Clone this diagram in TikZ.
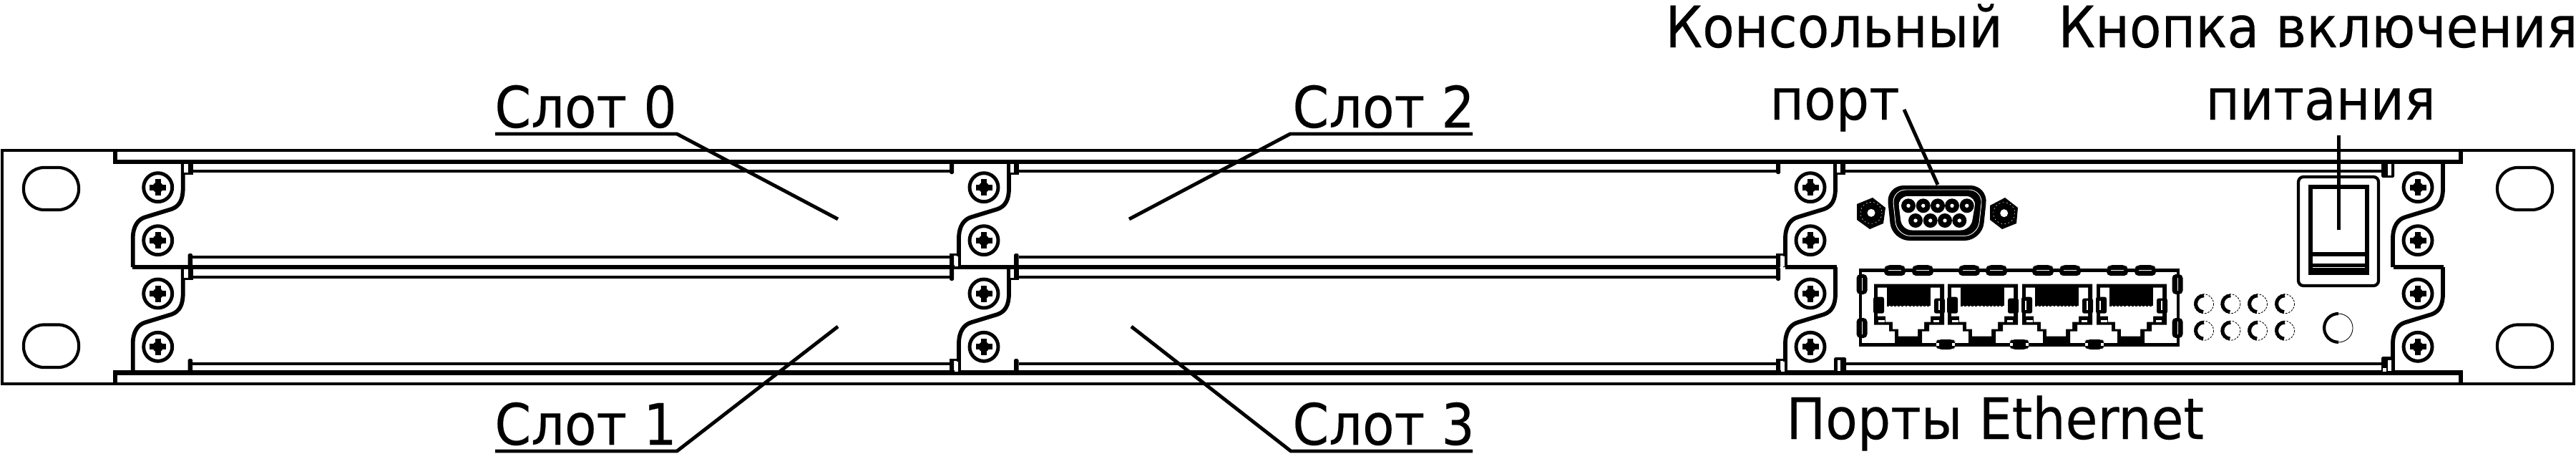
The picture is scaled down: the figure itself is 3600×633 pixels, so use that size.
\documentclass[tikz,border=0pt]{standalone}
\usepackage{fontspec}
\setmainfont[FakeStretch=0.915,FakeBold=0.25]{DejaVu Sans}
% 1 reference pixel = 0.02cm = 0.5669pt
\tikzset{
  rail/.style={line width=2.7pt},
  heavy/.style={line width=3.5pt},
  bracket/.style={line width=3.3pt,line join=round},
  leader/.style={line width=2.8pt,line join=round},
  lbl/.style={inner sep=0pt,anchor=base west,font=\fontsize{45.4}{50}\selectfont},
  ink/.style={fill=black,draw=none},
  blank/.style={fill=white,draw=none},
  hole/.style={line width=2.4pt,rounded corners=16.2pt},
}
\newcommand\SCurve[2]{%
  \draw[bracket] ({#1+35},{#2}) -- ({#1+35},{#2+37})
    .. controls ({#1+35},{#2+53}) and ({#1+30},{#2+62}) .. ({#1+19},{#2+66})
    -- ({#1-17},{#2+77})
    .. controls ({#1-28},{#2+80}) and ({#1-35},{#2+90}) .. ({#1-35},{#2+107})
    -- ({#1-35},{#2+147});}
\newcommand\Screw[2]{%
  \draw[line width=2.8pt] (#1,#2) circle[radius=20];
  \fill ({#1-11.5},{#2-4}) rectangle ({#1+11.5},{#2+4});
  \fill ({#1-4},{#2-11.5}) rectangle ({#1+4},{#2+11.5});
  \fill (#1,#2) circle[radius=7.5];}
% tab under a rail, right side of a column
\newcommand\TabBelow[2]{%
  \fill ({#1+42},{#2}) rectangle ({#1+49},{#2+18});
  \fill ({#1+34},{#2+15}) rectangle ({#1+49},{#2+18});}
\newcommand\TabAbove[2]{\fill[rounded corners=1pt] ({#1+42},{#2-19}) rectangle ({#1+48.5},{#2+1});}
% left side tab with a slit above the rail
\newcommand\TabLeftAbove[2]{%
  \fill[rounded corners=1pt] ({#1-48},{#2-19}) rectangle ({#1-42},{#2+1});
  \fill ({#1-48},{#2-19}) rectangle ({#1-33},{#2-16});}
\newcommand\HClip[2]{%
  \fill[rounded corners=3pt] ({#1-15},{#2-3}) -- ({#1-11},{#2-7.5}) -- ({#1+11},{#2-7.5}) -- ({#1+15},{#2-3}) -- ({#1+15},{#2+7.5}) -- ({#1-15},{#2+7.5}) -- cycle;
  \draw[white,line width=0.6pt] ({#1-9},{#2}) -- ({#1+9},{#2});}
\newcommand\VClip[2]{%
  \fill[rounded corners=3pt] ({#1-7.5},{#2-14}) rectangle ({#1+7.5},{#2+14});
  \draw[white,line width=0.6pt] (#1,{#2-9}) -- (#1,{#2+9});}
\newcommand\BClip[2]{%
  \fill[rounded corners=3pt] ({#1-14},{#2-4}) -- ({#1-10},{#2-7}) -- ({#1+10},{#2-7}) -- ({#1+14},{#2-4}) -- ({#1+14},{#2+3}) -- ({#1+10},{#2+7}) -- ({#1-10},{#2+7}) -- ({#1-14},{#2+3}) -- cycle;
  \fill[white] ({#1-13},{#2-2}) rectangle ({#1-9},{#2+2});
  \fill[white] ({#1+9},{#2-2}) rectangle ({#1+13},{#2+2});}
% #1 x, #2 left slit width, #3 right slit width (0 = solid)
\newcommand\Jack[3]{%
  \begin{scope}[shift={(#1,396.7)}]
    \fill (0,0) -- (98,0) -- (98,57) -- (77,57) -- (77,66) -- (67,66) -- (67,83) -- (29,83) -- (29,66) -- (21,66) -- (21,57) -- (0,57) -- cycle;
    \fill[white] (5,5) -- (92,5) -- (92,45) -- (79,45) -- (79,53) -- (70,53) -- (70,63) -- (61,63) -- (61,73) -- (34,73) -- (34,63) -- (26,63) -- (26,53) -- (16,53) -- (16,45) -- (5,45) -- cycle;
    \fill (18,3) rectangle (79,30);
    \draw[line width=1pt,dash pattern=on 1.7pt off 1.2pt] (18,30.5) -- (79,30.5);
    \fill[rounded corners=1.5pt] (-1,18) rectangle (14,41);
    \fill[rounded corners=1.5pt] (84,20) rectangle (99,41);
    \fill[white] (6,50) rectangle (15,53.5);
    \fill[white] (83,50) rectangle (91,53.5);
    \ifnum#2>0 \fill[white] (4,23) rectangle (6,36);\fi
    \ifnum#3>0 \fill[white] (90,23) rectangle (92,36);\fi
  \end{scope}}
\newcommand\Led[2]{%
  \draw[line width=0.5pt,dash pattern=on 1.5pt off 1pt] (#1,#2) circle[radius=13.5];
  \draw[line width=2.8pt] (#1,{#2-11.5}) arc[start angle=90,end angle=265,radius=6.5pt];}
\begin{document}
\begin{tikzpicture}[x=0.02cm,y=-0.02cm]
\useasboundingbox (0,0) rectangle (3600,633);
\fill[white] (0,0) rectangle (3600,633);

% chassis
\draw[rail] (3,210) rectangle (3597,536);
\draw[heavy] (161,210) -- (161,226) -- (3439,226) -- (3439,210);
\draw[heavy] (161,536) -- (161,520.5) -- (3439,520.5) -- (3439,536);

% slot rails
\foreach \y in {239,508}{
  \draw[rail] (268,\y) -- (1330,\y);
  \draw[rail] (1424,\y) -- (2483,\y);
  \draw[rail] (2579,\y) -- (3330,\y);}
\foreach \y in {359,387}{
  \draw[rail] (268,\y) -- (1330,\y);
  \draw[rail] (1424,\y) -- (2483,\y);}
\draw[heavy] (185,373) -- (2483,373);
\draw[heavy] (2495,373) -- (2567,373);
\draw[heavy] (3345,373) -- (3415,373);

% brackets
\foreach \c in {220.7,1375,2530,3379}{
  \SCurve{\c}{226}
  \SCurve{\c}{373}
  \foreach \y in {261.7,335.7,410,484.3}{\Screw{\c}{\y}}
}

% tabs, column 1
\TabBelow{220.7}{226}\TabBelow{220.7}{373}
\TabAbove{220.7}{373}\TabAbove{220.7}{520}
\fill[white] (257,228.5) rectangle (262.7,240.5);
\fill[white] (257,375.5) rectangle (262.7,387.5);
% tabs, column 2
\fill[rounded corners=1pt] (1327,226) rectangle (1333,243);
\fill[rounded corners=1pt] (1327,373) rectangle (1333,392);
\TabLeftAbove{1375}{373}\TabLeftAbove{1375}{520}
\fill[white] (1333.5,358) rectangle (1339,372);
\fill[white] (1333.5,505) rectangle (1339,519);
\TabBelow{1375}{226}\TabBelow{1375}{373}
\TabAbove{1375}{373}\TabAbove{1375}{520}
\fill[white] (1412,228.5) rectangle (1417,240.5);
\fill[white] (1412,375.5) rectangle (1417,387.5);
% tabs, column 3
\fill[rounded corners=1pt] (2482,226) rectangle (2488,243);
\fill[rounded corners=1pt] (2482,373) rectangle (2488,392);
\TabLeftAbove{2530}{373}\TabLeftAbove{2530}{520}
\fill[white] (2488.5,358) rectangle (2494,372);
\fill[white] (2488.5,505) rectangle (2494,519);
\TabBelow{2530}{226}
\fill[white] (2567,228.5) rectangle (2572,240.5);
\fill[rounded corners=1pt] (2563,499) rectangle (2580,520);
\fill[white] (2568,503) rectangle (2572,518);
% tabs, column 4
\fill[rounded corners=1pt] (3328,226) rectangle (3346,248);
\fill[white] (3337,228.5) rectangle (3342,245);
\fill[rounded corners=1pt] (3328,498) rectangle (3346,520);
\fill[white] (3337,503) rectangle (3342,518);
\fill[white] (3330,514) rectangle (3335,519);

% rack ear holes
\foreach \x in {71.5,3528.5}{
  \draw[hole] ({\x-38.5},234) rectangle ({\x+38.5},293);
  \draw[hole] ({\x-38.5},453.5) rectangle ({\x+38.5},513);}

% console connector
\fill[rounded corners=14pt] (2636,259) -- (2778,259) -- (2770,336) -- (2644,336) -- cycle;
\draw[white,line width=0.5pt,rounded corners=11pt] (2644,265) -- (2771,265) -- (2764,329.5) -- (2651,329.5) -- cycle;
\fill[white,rounded corners=8pt] (2652,274) -- (2762,274) -- (2754,321.5) -- (2658,321.5) -- cycle;
\foreach \x in {2667,2687.7,2708,2728,2748.7}{
  \fill (\x,287.3) circle[radius=10];
  \fill[white] (\x,287.3) circle[radius=2.7];}
\foreach \x in {2677,2697.7,2718,2738.3}{
  \fill (\x,308) circle[radius=10];
  \fill[white] (\x,308) circle[radius=2.7];}
% nuts
\fill (2595,285) -- (2617,276) -- (2635,290) -- (2632,312) -- (2613,320) -- (2595,307) -- cycle;
\fill[white] (2615,297.3) circle[radius=5.5];
\draw[white,line width=0.3pt,dash pattern=on 1pt off 2pt] (2615,297.3) circle[radius=15];
\fill (2781,287) -- (2802,276) -- (2820,290) -- (2818,312) -- (2798,320) -- (2781,307) -- cycle;
\fill[white] (2800.7,297.7) circle[radius=5.5];
\draw[white,line width=0.3pt,dash pattern=on 1pt off 2pt] (2800.7,297.7) circle[radius=15];

% ethernet block
\draw[rail] (2600,377.5) rectangle (3044,481.5);
\Jack{2619}{0}{1}\Jack{2722}{0}{0}\Jack{2826}{1}{1}\Jack{2930}{1}{1}
\foreach \x in {2648,2687,2752,2790,2855,2893,2959,2998}{\HClip{\x}{377.5}}
\foreach \y in {397,458}{\VClip{2602}{\y}\VClip{3043}{\y}}
\foreach \x in {2719,2822,2927}{\BClip{\x}{481}}

% LEDs
\foreach \x in {3080,3117.3,3155,3193}{\foreach \y in {424.3,461.7}{\Led{\x}{\y}}}
\draw[line width=0.5pt] (3268,458) circle[radius=20];
\draw[line width=2.4pt] (3268,438) arc[start angle=90,end angle=270,radius=11.34pt];

% power switch
\draw[line width=2.4pt,rounded corners=4pt] (3212,247) rectangle (3324,399);
\draw[line width=2.9pt] (3229,261) rectangle (3308,381);
\draw[line width=3.4pt] (3229,355) -- (3308,355);
\draw[line width=2.3pt] (3229,370.5) -- (3308,370.5);
\fill (3229,374) rectangle (3308,381);

% labels
\node[lbl] (s0) at (691,178) {Слот 0};
\node[lbl] (s1) at (691,621) {Слот 1};
\node[lbl] (s2) at (1806,178) {Слот 2};
\node[lbl] (s3) at (1806,621) {Слот 3};
\node[lbl] (k1) at (2327,66) {Консольный};
\node[lbl] (k2) at (2473,167) {порт};
\node[lbl] (p1) at (2876,66) {Кнопка включения};
\node[lbl] (p2) at (3082,167) {питания};
\node[lbl] (eth) at (2496,613) {Порты Ethernet};

% leaders
\coordinate (u0a) at (692,187); \coordinate (u0b) at (946,187); \coordinate (e0) at (1171,306);
\coordinate (u1a) at (692,630); \coordinate (u1b) at (946,630); \coordinate (e1) at (1171,456);
\coordinate (u2a) at (2058,187); \coordinate (u2b) at (1803,187); \coordinate (e2) at (1578,306);
\coordinate (u3a) at (2058,630); \coordinate (u3b) at (1804,630); \coordinate (e3) at (1581,456);
\coordinate (c0) at (2661,153); \coordinate (c1) at (2708,258);
\coordinate (b0) at (3268,189); \coordinate (b1) at (3268,321);
\draw[leader] (u0a) -- (u0b) -- (e0);
\draw[leader] (u1a) -- (u1b) -- (e1);
\draw[leader] (u2a) -- (u2b) -- (e2);
\draw[leader] (u3a) -- (u3b) -- (e3);
\draw[leader] (c0) -- (c1);
\draw[leader] (b0) -- (b1);
\end{tikzpicture}
\end{document}
